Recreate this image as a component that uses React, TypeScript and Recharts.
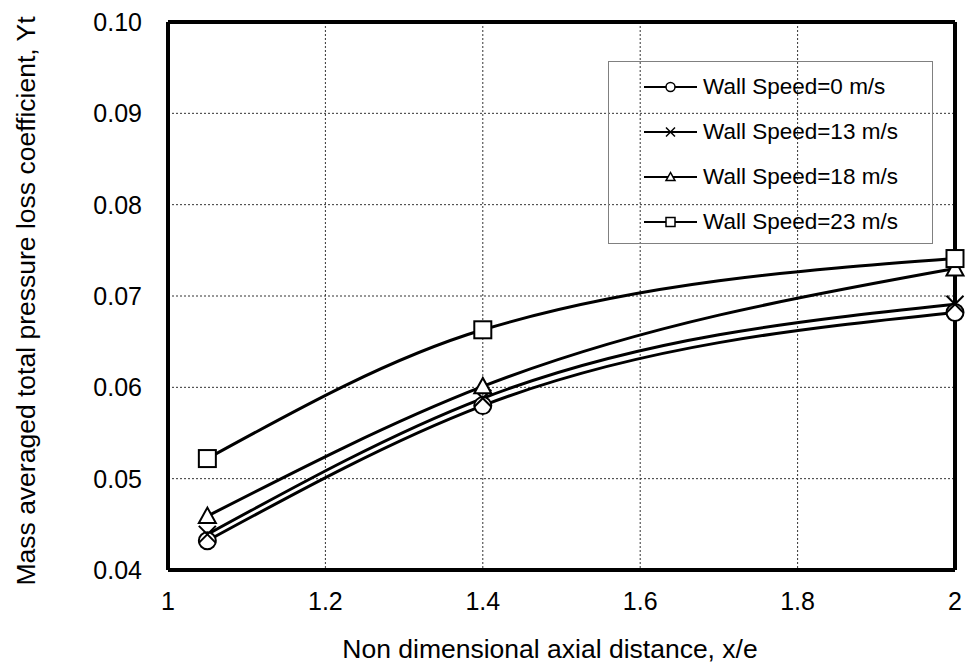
import React from 'react';
import {
  LineChart,
  Line,
  XAxis,
  YAxis,
  CartesianGrid,
  Legend,
  ReferenceLine,
} from 'recharts';

const axialDistance = [1.05, 1.4, 2];
const speed0 = [0.0432, 0.058, 0.0682];
const speed13 = [0.0439, 0.0588, 0.0691];
const speed18 = [0.0459, 0.0601, 0.073];
const speed23 = [0.0522, 0.0663, 0.0741];
const xTicks = [1, 1.2, 1.4, 1.6, 1.8, 2];
const yTicks = [0.04, 0.05, 0.06, 0.07, 0.08, 0.09, 0.1];

const seriesList = [
  { key: 's0', name: 'Wall Speed=0 m/s', values: speed0, shape: 'circle' },
  { key: 's13', name: 'Wall Speed=13 m/s', values: speed13, shape: 'cross' },
  { key: 's18', name: 'Wall Speed=18 m/s', values: speed18, shape: 'triangle' },
  { key: 's23', name: 'Wall Speed=23 m/s', values: speed23, shape: 'square' },
];

const data = axialDistance.map((x, i) => {
  const row: Record<string, number> = { x };
  seriesList.forEach((s) => {
    row[s.key] = s.values[i];
  });
  return row;
});

const FONT = '"Liberation Sans", Arial, sans-serif';

function Marker({ shape, cx, cy, size, sw }: { shape: string; cx: number; cy: number; size: number; sw: number }) {
  const h = size / 2;
  if (shape === 'circle') {
    return <circle cx={cx} cy={cy} r={h} fill="#fff" stroke="#000" strokeWidth={sw} />;
  }
  if (shape === 'cross') {
    return (
      <g stroke="#000" strokeWidth={sw}>
        <line x1={cx - h} y1={cy - h} x2={cx + h} y2={cy + h} />
        <line x1={cx - h} y1={cy + h} x2={cx + h} y2={cy - h} />
      </g>
    );
  }
  if (shape === 'triangle') {
    const pts = `${cx},${cy - h} ${cx - h},${cy + h * 0.8} ${cx + h},${cy + h * 0.8}`;
    return <polygon points={pts} fill="#fff" stroke="#000" strokeWidth={sw} />;
  }
  return <rect x={cx - h} y={cy - h} width={size} height={size} fill="#fff" stroke="#000" strokeWidth={sw} />;
}

const makeDot = (shape: string) => (props: any) => {
  const { cx, cy, index } = props;
  if (cx == null || cy == null) return <g key={index} />;
  return (
    <g key={`${shape}-${index}`}>
      <Marker shape={shape} cx={cx} cy={cy} size={17} sw={2} />
    </g>
  );
};

function LegendBox() {
  return (
    <div
      style={{
        width: 325,
        height: 183,
        boxSizing: 'border-box',
        border: '1px solid #808080',
        paddingTop: 2,
        fontFamily: FONT,
        fontSize: 22.5,
        color: '#000',
      }}
    >
      {seriesList.map((s) => (
        <div key={s.key} style={{ height: 45, display: 'flex', alignItems: 'center' }}>
          <svg width={53} height={20} style={{ marginLeft: 35, marginRight: 6 }}>
            <line x1={0} y1={10} x2={53} y2={10} stroke="#000" strokeWidth={2} />
            <Marker shape={s.shape} cx={26.5} cy={10} size={9} sw={1.5} />
          </svg>
          <span>{s.name}</span>
        </div>
      ))}
    </div>
  );
}

export default function App() {
  return (
    <div style={{ position: 'absolute', left: 0, top: 0, width: 967, height: 664, background: '#fff' }}>
      <LineChart
        width={967}
        height={664}
        data={data}
        margin={{ top: 22, right: 12, bottom: 64, left: 108 }}
        style={{ fontFamily: FONT }}
      >
        <CartesianGrid stroke="#333" strokeDasharray="2 2" strokeWidth={1} />
        <XAxis
          type="number"
          dataKey="x"
          domain={[1, 2]}
          ticks={xTicks}
          height={30}
          tickLine={false}
          tickSize={0}
          tickMargin={22}
          axisLine={{ stroke: '#000', strokeWidth: 4 }}
          tick={{ fill: '#000', fontSize: 25, fontFamily: FONT }}
          tickFormatter={(v: number) => String(v)}
        />
        <YAxis
          type="number"
          domain={[0.04, 0.1]}
          ticks={yTicks}
          width={60}
          tickLine={false}
          tickSize={0}
          tickMargin={26}
          axisLine={{ stroke: '#000', strokeWidth: 4 }}
          tick={{ fill: '#000', fontSize: 25, fontFamily: FONT }}
          tickFormatter={(v: number) => v.toFixed(2)}
        />
        <ReferenceLine x={2} stroke="#000" strokeWidth={4} />
        <ReferenceLine y={0.1} stroke="#000" strokeWidth={4} />
        <Legend
          layout="vertical"
          align="center"
          verticalAlign="middle"
          content={() => <LegendBox />}
          wrapperStyle={{ position: 'absolute', left: 608, top: 61, width: 325, height: 183 }}
        />
        {seriesList.map((s) => (
          <Line
            key={s.key}
            type="monotone"
            dataKey={s.key}
            name={s.name}
            stroke="#000"
            strokeWidth={3}
            dot={makeDot(s.shape)}
            activeDot={false}
            isAnimationActive={false}
          />
        ))}
      </LineChart>
      <div
        style={{
          position: 'absolute',
          left: 550,
          top: 649,
          transform: 'translate(-50%, -50%)',
          whiteSpace: 'nowrap',
          fontFamily: FONT,
          fontSize: 26.5,
          color: '#000',
        }}
      >
        Non dimensional axial distance, x/e
      </div>
      <div
        style={{
          position: 'absolute',
          left: 26,
          top: 301,
          transform: 'translate(-50%, -50%) rotate(-90deg)',
          whiteSpace: 'nowrap',
          fontFamily: FONT,
          fontSize: 26.5,
          color: '#000',
        }}
      >
        Mass averaged total pressure loss coefficient, Yt
      </div>
    </div>
  );
}
